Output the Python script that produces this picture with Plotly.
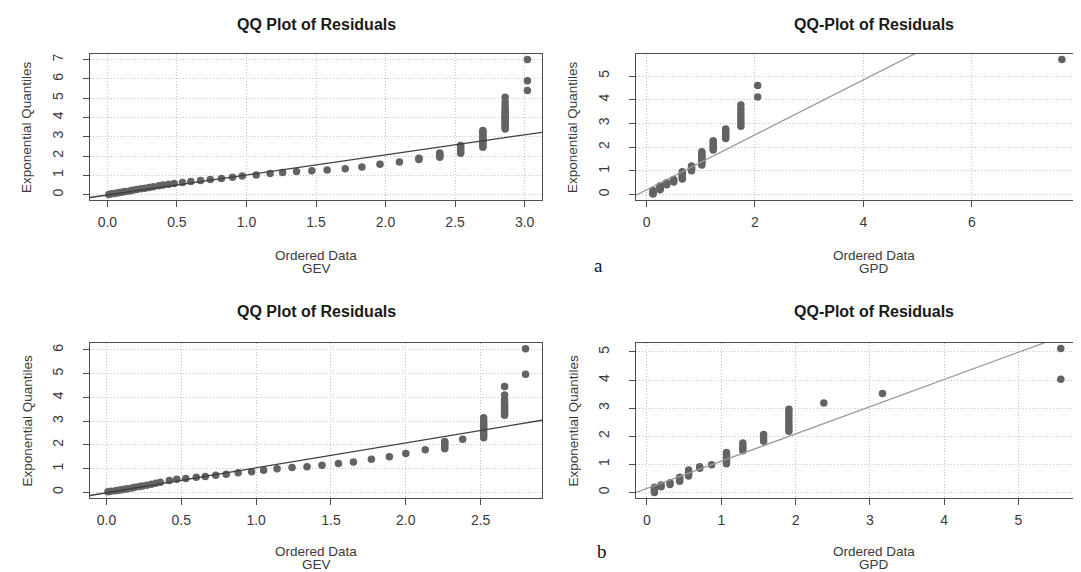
import plotly.graph_objects as go

W, H = 1081, 572

# ---------------- data ----------------
# (a) GEV : ordered data vs exponential quantiles
gev_a_x = [0.01, 0.03, 0.05, 0.07, 0.09, 0.11, 0.13, 0.16, 0.18, 0.21, 0.24, 0.27, 0.30, 0.33,
           0.37, 0.40, 0.44, 0.48, 0.54, 0.60, 0.67, 0.74, 0.82, 0.90, 0.97, 1.07, 1.17, 1.26,
           1.36, 1.47, 1.58, 1.71, 1.83, 1.96, 2.10, 2.24, 2.24,
           2.39, 2.39, 2.39, 2.39,
           2.54, 2.54, 2.54, 2.54, 2.54,
           2.70, 2.70, 2.70, 2.70, 2.70, 2.70, 2.70, 2.70, 2.70, 2.70,
           2.86, 2.86, 2.86, 2.86, 2.86, 2.86, 2.86, 2.86, 2.86, 2.86, 2.86, 2.86, 2.86, 2.86,
           3.02, 3.02, 3.02]
gev_a_y = [0.01, 0.04, 0.06, 0.08, 0.11, 0.13, 0.16, 0.19, 0.22, 0.26, 0.30, 0.33, 0.37, 0.41,
           0.46, 0.50, 0.54, 0.58, 0.63, 0.68, 0.73, 0.78, 0.84, 0.90, 0.96, 1.02, 1.09, 1.14,
           1.20, 1.24, 1.28, 1.34, 1.43, 1.57, 1.69, 1.82, 1.88,
           1.94, 2.02, 2.10, 2.16,
           2.15, 2.25, 2.35, 2.45, 2.54,
           2.45, 2.55, 2.65, 2.75, 2.85, 2.95, 3.05, 3.15, 3.25, 3.32,
           3.40, 3.50, 3.60, 3.70, 3.80, 3.90, 4.00, 4.10, 4.20, 4.32, 4.45, 4.60, 4.80, 5.05,
           5.40, 5.90, 7.00]
gev_a_line = (-0.02, 1.04)          # intercept, slope

# (a) GPD
gpd_a_x = [0.12, 0.12, 0.12, 0.12,
           0.25, 0.25, 0.25, 0.25,
           0.37, 0.37, 0.37,
           0.50, 0.50, 0.50,
           0.66, 0.66, 0.66, 0.66, 0.66, 0.66,
           0.83, 0.83, 0.83, 0.83,
           1.02, 1.02, 1.02, 1.02, 1.02, 1.02, 1.02, 1.02,
           1.23, 1.23, 1.23, 1.23, 1.23,
           1.46, 1.46, 1.46, 1.46, 1.46, 1.46,
           1.74, 1.74, 1.74, 1.74, 1.74, 1.74, 1.74,
           2.05, 2.05,
           7.66]
gpd_a_y = [0.02, 0.07, 0.12, 0.17,
           0.20, 0.26, 0.32, 0.37,
           0.41, 0.46, 0.50,
           0.53, 0.58, 0.63,
           0.66, 0.72, 0.78, 0.84, 0.90, 0.96,
           1.00, 1.07, 1.14, 1.20,
           1.25, 1.33, 1.41, 1.49, 1.57, 1.65, 1.73, 1.81,
           1.88, 1.98, 2.08, 2.18, 2.27,
           2.37, 2.45, 2.53, 2.61, 2.69, 2.77,
           2.88, 3.02, 3.16, 3.30, 3.45, 3.60, 3.78,
           4.12, 4.60,
           5.70]
gpd_a_line = (0.20, 1.16)

# (b) GEV
gev_b_x = [0.01, 0.03, 0.06, 0.08, 0.10, 0.12, 0.14, 0.17, 0.19, 0.22, 0.24, 0.27, 0.30, 0.33,
           0.36, 0.42, 0.47, 0.53, 0.60, 0.66, 0.73, 0.80, 0.88, 0.97, 1.05, 1.14, 1.24, 1.34,
           1.44, 1.55, 1.65, 1.77, 1.89, 2.00, 2.13, 2.38,
           2.26, 2.26, 2.26, 2.26, 2.26,
           2.52, 2.52, 2.52, 2.52, 2.52, 2.52, 2.52, 2.52, 2.52, 2.52, 2.52,
           2.66, 2.66, 2.66, 2.66, 2.66, 2.66, 2.66, 2.66, 2.66, 2.66,
           2.80, 2.80]
gev_b_y = [0.02, 0.04, 0.07, 0.09, 0.11, 0.13, 0.15, 0.18, 0.21, 0.24, 0.27, 0.30, 0.34, 0.38,
           0.42, 0.50, 0.55, 0.58, 0.63, 0.67, 0.72, 0.76, 0.82, 0.87, 0.93, 0.99, 1.04, 1.08,
           1.14, 1.21, 1.28, 1.39, 1.50, 1.64, 1.79, 2.24,
           1.84, 1.92, 2.00, 2.08, 2.14,
           2.30, 2.38, 2.46, 2.54, 2.62, 2.70, 2.78, 2.86, 2.95, 3.05, 3.14,
           3.25, 3.33, 3.42, 3.50, 3.58, 3.67, 3.78, 3.90, 4.10, 4.46,
           4.97, 6.05]
gev_b_line = (-0.02, 1.05)

# (b) GPD
gpd_b_x = [0.10, 0.10, 0.10, 0.10,
           0.19, 0.19,
           0.31, 0.31,
           0.44, 0.44, 0.44,
           0.56, 0.56, 0.56, 0.56,
           0.71, 0.71,
           0.87,
           1.07, 1.07, 1.07, 1.07, 1.07, 1.07,
           1.29, 1.29, 1.29, 1.29,
           1.57, 1.57, 1.57,
           1.91, 1.91, 1.91, 1.91, 1.91, 1.91, 1.91, 1.91,
           2.38, 3.17, 5.57, 5.57]
gpd_b_y = [0.00, 0.06, 0.12, 0.18,
           0.20, 0.26,
           0.28, 0.34,
           0.40, 0.47, 0.54,
           0.58, 0.65, 0.72, 0.80,
           0.86, 0.91,
           0.98,
           1.02, 1.10, 1.18, 1.26, 1.34, 1.42,
           1.48, 1.57, 1.66, 1.76,
           1.82, 1.94, 2.06,
           2.18, 2.28, 2.38, 2.50, 2.62, 2.74, 2.86, 2.96,
           3.18, 3.52, 4.03, 5.12]
gpd_b_line = (0.14, 0.97)

titles = ["QQ Plot of Residuals", "QQ-Plot of Residuals", "QQ Plot of Residuals", "QQ-Plot of Residuals"]
model_names = ["GEV", "GPD", "GEV", "GPD"]
x_ticks = [[0, 0.5, 1, 1.5, 2, 2.5, 3], [0, 2, 4, 6], [0, 0.5, 1, 1.5, 2, 2.5], [0, 1, 2, 3, 4, 5]]
y_ticks = [[0, 1, 2, 3, 4, 5, 6, 7], [0, 1, 2, 3, 4, 5], [0, 1, 2, 3, 4, 5, 6], [0, 1, 2, 3, 4, 5]]
x_fmt = [".1f", "d", ".1f", "d"]
panel_letters = ["a", "b"]

# ---------------- layout (pixels) ----------------
boxes = [  # left, right, top, bottom in pixels
    (82, 534, 46, 192),
    (628, 1081, 46, 192),
    (82, 534, 335, 490),
    (628, 1081, 335, 490),
]
title_y = [17, 17, 303, 303]
xlab_y = [(247, 260), (247, 260), (543, 556), (543, 556)]
x_ranges = [[-0.125, 3.125], [-0.194, 8.16], [-0.11, 2.91], [-0.148, 5.95]]
y_ranges = [[-0.28, 7.29], [-0.23, 5.93], [-0.24, 6.29], [-0.20, 5.32]]
right_open = [False, True, False, True]

series = [(gev_a_x, gev_a_y, gev_a_line), (gpd_a_x, gpd_a_y, gpd_a_line),
          (gev_b_x, gev_b_y, gev_b_line), (gpd_b_x, gpd_b_y, gpd_b_line)]
line_colors = ["#3f3f3f", "#9a9a9a", "#3f3f3f", "#9a9a9a"]

FONT = "Liberation Sans, Arial, sans-serif"
AXC = "#4d4d4d"
TXT = "#3a3a3a"

fig = go.Figure()
layout = dict(
    width=W, height=H,
    margin=dict(l=0, r=0, t=0, b=0, autoexpand=False),
    paper_bgcolor="white", plot_bgcolor="white",
    showlegend=False,
    font=dict(family=FONT, color=TXT),
)
annotations = []

for i in range(4):
    sx = "" if i == 0 else str(i + 1)
    xa, ya = "x" + sx, "y" + sx
    L, R, T, B = boxes[i]
    xs, ys, (a, b) = series[i]

    fig.add_trace(go.Scatter(
        x=xs, y=ys, mode="markers", xaxis=xa, yaxis=ya,
        marker=dict(color="#636363", size=7.5, line=dict(width=0)),
        cliponaxis=False, hoverinfo="skip"))
    lx = x_ranges[i]
    fig.add_trace(go.Scatter(
        x=lx, y=[a + b * v for v in lx], mode="lines", xaxis=xa, yaxis=ya,
        line=dict(color=line_colors[i], width=1.3), hoverinfo="skip"))

    common = dict(
        showline=True, linecolor=AXC, linewidth=1.3,
        ticks="outside", ticklen=6, tickwidth=1, tickcolor=AXC,
        showgrid=True, gridcolor="#c4c4c4", griddash="1px,2px", gridwidth=1,
        zeroline=False, tickfont=dict(family=FONT, size=14, color=TXT),
        fixedrange=True,
    )
    layout["xaxis" + sx] = dict(
        common, domain=[L / W, R / W], range=x_ranges[i], anchor=ya,
        tickvals=x_ticks[i], tickformat=x_fmt[i], mirror=True,
        ticklabelstandoff=3)
    layout["yaxis" + sx] = dict(
        common, domain=[1 - B / H, 1 - T / H], range=y_ranges[i], anchor=xa,
        tickvals=y_ticks[i], tickangle=-90, mirror=not right_open[i],
        ticklabelstandoff=14)

    # title
    cx = (L + (R if not right_open[i] else 1104)) / 2
    annotations.append(dict(
        text="<b>" + titles[i] + "</b>", x=cx / W, y=1 - title_y[i] / H,
        xref="paper", yref="paper", showarrow=False, xanchor="center", yanchor="middle",
        font=dict(family=FONT, size=16, color="#1a1a1a")))
    # x axis label (two lines)
    annotations.append(dict(
        text="Ordered Data", x=cx / W, y=1 - xlab_y[i][0] / H,
        xref="paper", yref="paper", showarrow=False, xanchor="center", yanchor="middle",
        font=dict(family=FONT, size=13.5, color=TXT)))
    annotations.append(dict(
        text=model_names[i], x=cx / W, y=1 - xlab_y[i][1] / H,
        xref="paper", yref="paper", showarrow=False, xanchor="center", yanchor="middle",
        font=dict(family=FONT, size=13.5, color=TXT)))
    # y axis label
    annotations.append(dict(
        text="Exponential Quantiles", x=(L - 63) / W, y=1 - ((T + B) / 2) / H,
        xref="paper", yref="paper", showarrow=False, xanchor="center", yanchor="middle",
        textangle=-90, font=dict(family=FONT, size=13.5, color=TXT)))

# panel letters
for k, (px, py) in enumerate([(590, 257), (594, 543)]):
    annotations.append(dict(
        text=panel_letters[k], x=px / W, y=1 - py / H, xref="paper", yref="paper",
        showarrow=False, xanchor="center", yanchor="middle",
        font=dict(family="Liberation Serif, DejaVu Serif, serif", size=19, color="#111111")))

layout["annotations"] = annotations
fig.update_layout(**layout)
fig.write_html("out.html")
